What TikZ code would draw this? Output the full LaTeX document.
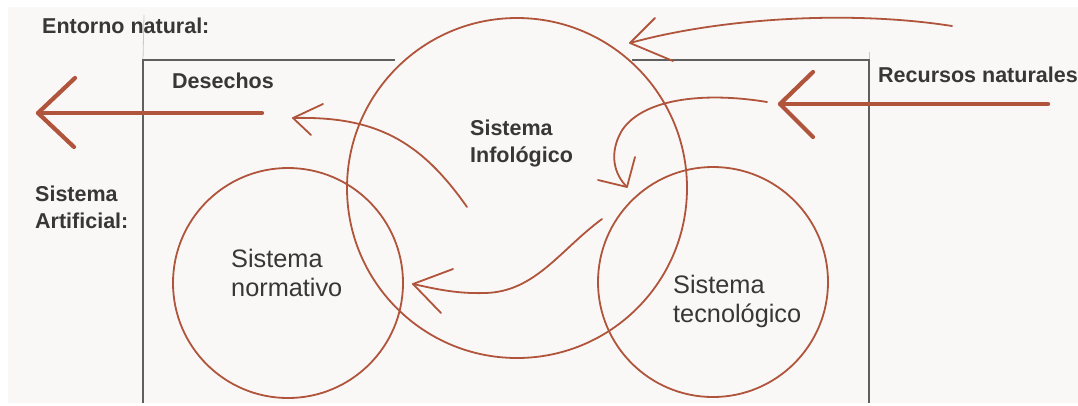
\documentclass[tikz,border=0pt]{standalone}
\usepackage{fontspec}
\setmainfont{Liberation Sans}
\definecolor{bgcol}{RGB}{249,248,246}
\definecolor{rust}{RGB}{176,84,60}
\definecolor{boxgray}{RGB}{95,95,95}
\definecolor{faint}{RGB}{200,200,200}
\definecolor{txt}{RGB}{55,55,55}
\begin{document}
\begin{tikzpicture}[x=1pt,y=-1pt,
  sysring/.style={circle,draw=rust,line width=1.8pt,inner sep=0pt},
  thinflow/.style={draw=rust,line width=1.8pt,line cap=round,line join=round},
  thickflow/.style={draw=rust,line width=4.2pt,line cap=round,line join=round},
  boldlabel/.style={font=\fontsize{21.5}{26.5}\selectfont\bfseries,text=txt,inner sep=0pt,align=left,anchor=base west},
  plainlabel/.style={font=\fontsize{25.3}{29}\selectfont,text=txt,inner sep=0pt,align=left,anchor=base west},
  frame/.style={draw=boxgray,line width=1.5pt}]
\useasboundingbox (0,0) rectangle (1078,405);
\fill[white] (0,0) rectangle (1078,405);
\fill[bgcol] (8,7) rectangle (1078,403);

% Sistema artificial frame
\coordinate (fTL) at (143,60);
\coordinate (fTLend) at (395,60);
\coordinate (fTRstart) at (632,60);
\coordinate (fTR) at (869,60);
\coordinate (fBL) at (143,403);
\coordinate (fBR) at (869,403);
\coordinate (faintTop) at (144,15);
\coordinate (faintTick) at (869,52);
\draw[faint,line width=0.8pt] (faintTop) -- (fTL);
\draw[faint,line width=0.8pt] (faintTick) -- (fTR);
\draw[frame] (fTLend) -- (fTL) -- (fBL);
\draw[frame] (fTRstart) -- (fTR) -- (fBR);

% circles
\node[sysring,minimum size=340pt] (info) at (517,188) {};
\node[sysring,minimum size=230pt] (norm) at (288,283) {};
\node[sysring,minimum size=230pt] (tec) at (713,282) {};

% labels (multi-line labels anchored at the baseline of their last line)
\node[boldlabel] (entorno) at (42,33) {Entorno natural:};
\node[boldlabel] (desechos) at (172,88) {Desechos};
\node[boldlabel] (artificial) at (35,228) {Sistema\\Artificial:};
\node[boldlabel] (recursos) at (878,82) {Recursos naturales};
\node[boldlabel] (infotxt) at (470,162) {Sistema\\Infológico};
\node[plainlabel] (normtxt) at (231,296) {Sistema\\normativo};
\node[plainlabel] (tectxt) at (673,322) {Sistema\\tecnológico};

% thick arrows: resources in, waste out
\coordinate (resStart) at (1048,104);
\coordinate (resTip) at (780,104);
\coordinate (resH1) at (813,72);
\coordinate (resH2) at (813,137);
\draw[thickflow] (resStart) -- (resTip);
\draw[thickflow] (resH1) -- (resTip) -- (resH2);

\coordinate (wasteStart) at (262,113);
\coordinate (wasteTip) at (38,113);
\coordinate (wasteH1) at (75,78);
\coordinate (wasteH2) at (74,147);
\draw[thickflow] (wasteStart) -- (wasteTip);
\draw[thickflow] (wasteH1) -- (wasteTip) -- (wasteH2);

% thin arrow from the natural environment into the infological system
\coordinate (envStart) at (952,26);
\coordinate (envTip) at (630,43);
\coordinate (envH1) at (655,18);
\coordinate (envH2) at (673,61);
\draw[thinflow] (envStart) .. controls (850,10) and (720,18) .. (envTip);
\draw[thinflow] (envH1) -- (envTip) -- (envH2);

% curl arrow from resources toward the technological system
\coordinate (curlStart) at (767,102);
\coordinate (curlMid) at (621,132);
\coordinate (curlTip) at (627,187);
\coordinate (curlH1) at (635,157);
\coordinate (curlH2) at (598,180);
\draw[thinflow] (curlStart) .. controls (700,91) and (640,100) .. (curlMid) .. controls (609,154) and (614,174) .. (curlTip);
\draw[thinflow] (curlH1) -- (curlTip) -- (curlH2);

% arrow toward waste
\coordinate (desStart) at (467,207);
\coordinate (desTip) at (293,118);
\coordinate (desH1) at (323,104);
\coordinate (desH2) at (311,135);
\draw[thinflow] (desStart) .. controls (420,140) and (375,116) .. (desTip);
\draw[thinflow] (desH1) -- (desTip) -- (desH2);

% arrow toward the normative system
\coordinate (normStart) at (602,219);
\coordinate (normMid) at (485,293);
\coordinate (normTip) at (413,284);
\coordinate (normH1) at (453,269);
\coordinate (normH2) at (441,313);
\draw[thinflow] (normStart) .. controls (560,250) and (535,292) .. (normMid) .. controls (455,294) and (432,288) .. (normTip);
\draw[thinflow] (normH1) -- (normTip) -- (normH2);
\end{tikzpicture}
\end{document}
